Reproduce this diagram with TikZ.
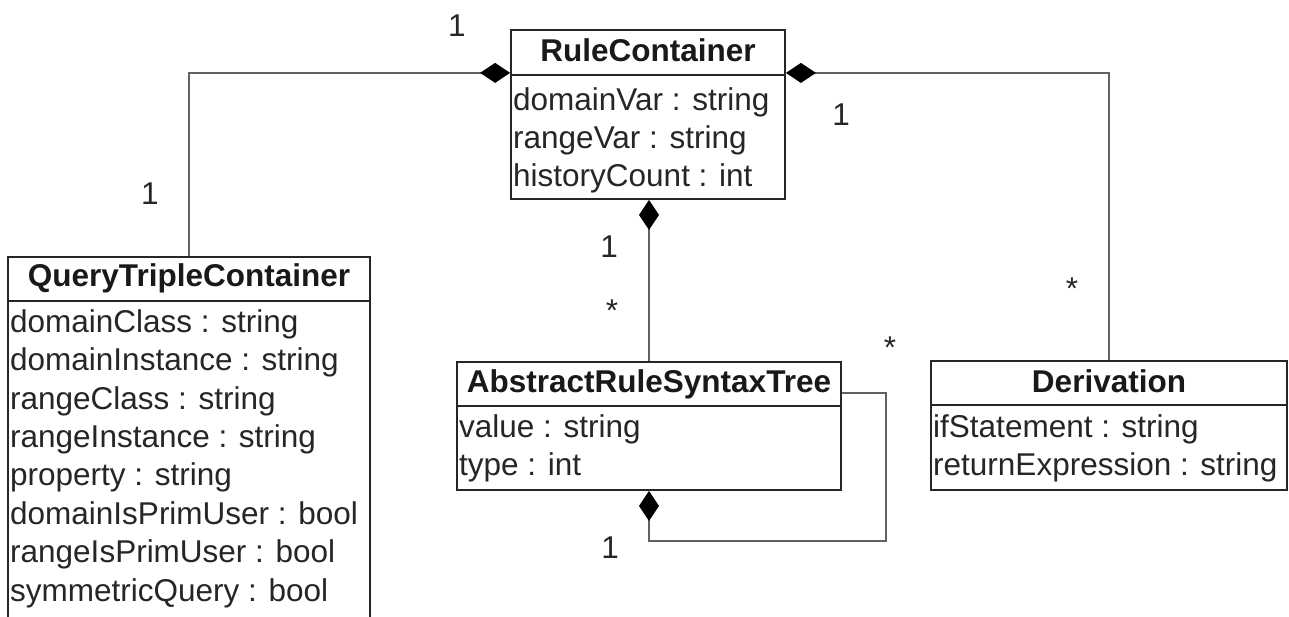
\documentclass[tikz,border=0pt]{standalone}
\usepackage{fontspec}
\setmainfont{Liberation Sans}
\usetikzlibrary{arrows.meta,calc}
\newcommand{\fst}{\rule{0pt}{24pt}}
\begin{document}
\begin{tikzpicture}[x=1pt,y=-1pt,
  classbox/.style={draw=black!85, line width=1.8pt, inner sep=0pt, fill=white},
  title/.style={font=\fontsize{31.5}{38.4}\selectfont\bfseries, inner sep=0pt, anchor=base, text=black!90},
  attrs/.style={font=\fontsize{31.5}{38.4}\selectfont, inner sep=0pt, anchor=north west, align=left, text=black!85},
  mult/.style={font=\fontsize{31.5}{38.4}\selectfont, inner sep=0pt, anchor=base, text=black!85},
  conn/.style={draw=black!62, line width=2.4pt},
  comp/.style={conn, -{Diamond[length=30pt,width=20pt,color=black]}}]
\useasboundingbox (0,0) rectangle (1289,617);
\clip (0,0) rectangle (1289,617);

% RuleContainer
\node[classbox, minimum width=274pt, minimum height=45pt] (rcH) at (648,52.5) {};
\node[classbox, minimum width=274pt, minimum height=124pt] (rcB) at (648,137) {};
\node[title] (rcT) at (648,62) {RuleContainer};
\node[attrs] (rcA) at (513,86) {\fst domainVar : string\\\fst rangeVar : string\\\fst historyCount : int};

% QueryTripleContainer
\node[classbox, minimum width=362pt, minimum height=44pt] (qtcH) at (189,279) {};
\node[classbox, minimum width=362pt, minimum height=339pt] (qtcB) at (189,470.5) {};
\node[title] (qtcT) at (189,287) {QueryTripleContainer};
\node[attrs] (qtcA) at (10,308) {\fst domainClass : string\\\fst domainInstance : string\\\fst rangeClass : string\\\fst rangeInstance : string\\\fst property : string\\\fst domainIsPrimUser : bool\\\fst rangeIsPrimUser : bool\\\fst symmetricQuery : bool};

% AbstractRuleSyntaxTree
\node[classbox, minimum width=384pt, minimum height=44pt] (astH) at (649,384) {};
\node[classbox, minimum width=384pt, minimum height=84pt] (astB) at (649,448) {};
\node[title] (astT) at (649,392) {AbstractRuleSyntaxTree};
\node[attrs] (astA) at (459,413) {\fst value : string\\\fst type : int};

% Derivation
\node[classbox, minimum width=356pt, minimum height=44pt] (derH) at (1109,383) {};
\node[classbox, minimum width=356pt, minimum height=85pt] (derB) at (1109,447.5) {};
\node[title] (derT) at (1109,392) {Derivation};
\node[attrs] (derA) at (933,413) {\fst ifStatement : string\\\fst returnExpression : string};

% connectors
\draw[comp] (qtcH.north) |- ($(rcH.south west)+(0,-3)$);
\draw[comp] (derH.north) |- ($(rcH.south east)+(0,-3)$);
\draw[comp] (astH.north) -- (astH.north |- rcB.south);
\coordinate (loopC) at (886,541);
\draw[comp] ($(astH.east)+(0,9)$) -| (loopC) -| (astB.south);

% multiplicities
\node[mult] (m1) at (457,37) {1};
\node[mult] (m2) at (150,205) {1};
\node[mult] (m3) at (841,126) {1};
\node[mult] (m4) at (1072,300) {*};
\node[mult] (m5) at (609,258) {1};
\node[mult] (m6) at (612,321) {*};
\node[mult] (m7) at (890,358) {*};
\node[mult] (m8) at (610,558) {1};
\end{tikzpicture}
\end{document}
